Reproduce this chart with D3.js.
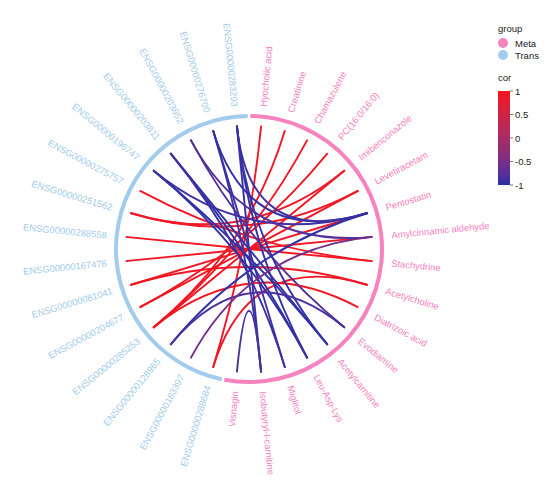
<!DOCTYPE html>
<html>
<head>
<meta charset="utf-8">
<script src="https://cdn.jsdelivr.net/npm/d3@7"></script>
<style>
body { margin: 0; background: #fff; }
text { font-family: "Liberation Sans", Arial, Helvetica, sans-serif; }
</style>
</head>
<body>
<svg id="chart" width="556" height="500"></svg>
<script>
// nodes, clockwise from the top
var metaNodes = ["Hyocholic acid", "Creatinine", "Chamazulene", "PC(16:0/16:0)", "Imibenconazole",
	"Levetiracetam", "Pentostatin", "Amylcinnamic aldehyde", "Stachydrine", "Acetylcholine",
	"Diatrizoic acid", "Evodiamine", "Acetylcarnitine", "Leu-Asp-Lys", "Miglitol",
	"Isobutyryl-l-carnitine", "Visnagin"];
var transNodes = ["ENSG00000288684", "ENSG00000183397", "ENSG00000128965", "ENSG00000285253",
	"ENSG00000204677", "ENSG00000081041", "ENSG00000167476", "ENSG00000288558", "ENSG00000251562",
	"ENSG00000275757", "ENSG00000196747", "ENSG00000203811", "ENSG00000203852", "ENSG00000276700",
	"ENSG00000283293"];

// edges
var edgeFrom = [
	"Hyocholic acid", "Creatinine", "Chamazulene", "PC(16:0/16:0)", "Imibenconazole",
	"Levetiracetam", "Levetiracetam", "Pentostatin", "Amylcinnamic aldehyde", "Stachydrine",
	"Stachydrine", "Acetylcholine", "Acetylcholine", "Diatrizoic acid", "Imibenconazole",
	"ENSG00000196747", "ENSG00000196747", "ENSG00000196747", "ENSG00000203811", "ENSG00000203811",
	"ENSG00000203811", "ENSG00000203852", "ENSG00000203852", "ENSG00000276700", "ENSG00000276700",
	"ENSG00000276700", "ENSG00000283293", "ENSG00000283293", "ENSG00000283293", "ENSG00000283293",
	"ENSG00000128965", "ENSG00000128965", "ENSG00000183397", "Visnagin"];
var edgeTo = [
	"ENSG00000288684", "ENSG00000285253", "ENSG00000285253", "ENSG00000204677", "ENSG00000285253",
	"ENSG00000204677", "ENSG00000251562", "ENSG00000081041", "ENSG00000167476", "ENSG00000288558",
	"ENSG00000275757", "ENSG00000081041", "ENSG00000288684", "ENSG00000285253", "ENSG00000251562",
	"Acetylcarnitine", "Leu-Asp-Lys", "Pentostatin", "Acetylcarnitine", "Leu-Asp-Lys",
	"Miglitol", "Evodiamine", "Amylcinnamic aldehyde", "Miglitol", "Isobutyryl-l-carnitine",
	"Pentostatin", "Isobutyryl-l-carnitine", "Pentostatin", "Acetylcarnitine", "Leu-Asp-Lys",
	"Pentostatin", "Evodiamine", "Amylcinnamic aldehyde", "Isobutyryl-l-carnitine"];
var edgeCor = [
	0.93, 0.95, 0.9, 0.85, 0.95,
	0.95, 0.9, 0.9, 0.9, 0.95,
	0.9, 0.95, 0.9, 0.95, 0.88,
	-0.97, -0.95, -0.9, -0.95, -0.97,
	-0.9, -0.78, -0.8, -0.92, -0.9,
	-0.95, -0.95, -0.9, -0.95, -0.93,
	-0.95, -0.85, -0.55, -0.82];

var groupNames = ["Meta", "Trans"];
var groupColors = ["#F682BE", "#A3CBEC"];
var corTicks = [1, 0.5, 0, -0.5, -1];

var svg = d3.select("#chart");
var cx = 249, cy = 249;
var rEdge = 124, rRing = 133, rLabel = 143;

var nodes = metaNodes.concat(transNodes);
var angle = d3.scaleBand().domain(nodes).range([0, 2 * Math.PI]);
var half = angle.bandwidth() / 2;
function ang(n) { return angle(n) + half; }
function groupOf(n) { return metaNodes.indexOf(n) >= 0 ? 0 : 1; }
function px(n, r) { return cx + r * Math.sin(ang(n)); }
function py(n, r) { return cy - r * Math.cos(ang(n)); }

var color = d3.scaleLinear()
	.domain([-1, 1])
	.range(["#2531A8", "#F8121C"])
	.interpolate(d3.interpolateLab);

var edges = edgeFrom.map(function(f, i) { return { from: f, to: edgeTo[i], cor: edgeCor[i] }; });

// edges: quadratic curves bent through the centre
svg.append("g").selectAll("path")
	.data(edges)
	.enter()
	.append("path")
	.attr("d", function(d) {
		var p = d3.path();
		p.moveTo(px(d.from, rEdge), py(d.from, rEdge));
		p.quadraticCurveTo(cx, cy, px(d.to, rEdge), py(d.to, rEdge));
		return p.toString();
	})
	.attr("fill", "none")
	.attr("stroke", function(d) { return color(d.cor); })
	.attr("stroke-width", 1.9)
	.attr("stroke-linecap", "butt");

// group ring
var pad = 0.01;
var ring = d3.arc().innerRadius(rRing - 2).outerRadius(rRing + 2);
[metaNodes, transNodes].forEach(function(list, gi) {
	svg.append("path")
		.attr("transform", "translate(" + cx + "," + cy + ")")
		.attr("d", ring({
			startAngle: ang(list[0]) - half + pad,
			endAngle: ang(list[list.length - 1]) + half - pad
		}))
		.attr("fill", groupColors[gi]);
});

// labels
svg.append("g").selectAll("text")
	.data(nodes)
	.enter()
	.append("text")
	.attr("transform", function(d) {
		var deg = ang(d) * 180 / Math.PI;
		var rot = deg < 180 ? deg - 90 : deg + 90;
		return "translate(" + px(d, rLabel) + "," + py(d, rLabel) + ") rotate(" + rot + ")";
	})
	.attr("text-anchor", function(d) { return ang(d) < Math.PI ? "start" : "end"; })
	.attr("dominant-baseline", "central")
	.attr("font-size", 9.4)
	.attr("fill", function(d) { return groupColors[groupOf(d)]; })
	.text(function(d) { return d; });

// legend: group
var lg = svg.append("g").attr("transform", "translate(498,0)");
lg.append("text").attr("x", 0).attr("y", 32).attr("font-size", 9.5).attr("fill", "#222").text("group");
groupNames.forEach(function(g, i) {
	lg.append("circle").attr("cx", 5).attr("cy", 43 + i * 12).attr("r", 5).attr("fill", groupColors[i]);
	lg.append("text").attr("x", 17).attr("y", 43 + i * 12).attr("dominant-baseline", "central")
		.attr("font-size", 9.5).attr("fill", "#222").text(g);
});

// legend: cor colour bar
lg.append("text").attr("x", 0).attr("y", 81).attr("font-size", 9.5).attr("fill", "#222").text("cor");
var grad = svg.append("defs").append("linearGradient")
	.attr("id", "corGrad").attr("x1", 0).attr("y1", 1).attr("x2", 0).attr("y2", 0);
d3.range(0, 1.0001, 0.1).forEach(function(t) {
	grad.append("stop").attr("offset", t).attr("stop-color", color(-1 + 2 * t));
});
var barY = d3.scaleLinear().domain([-1, 1]).range([185, 91]);
lg.append("rect").attr("x", 0).attr("y", barY(1)).attr("width", 12)
	.attr("height", barY(-1) - barY(1)).attr("fill", "url(#corGrad)");
corTicks.forEach(function(t) {
	lg.append("line").attr("x1", 12).attr("x2", 15).attr("y1", barY(t)).attr("y2", barY(t))
		.attr("stroke", "#555").attr("stroke-width", 0.8);
	lg.append("text").attr("x", 17).attr("y", barY(t)).attr("dominant-baseline", "central")
		.attr("font-size", 9.5).attr("fill", "#222").text(t);
});
</script>
</body>
</html>
